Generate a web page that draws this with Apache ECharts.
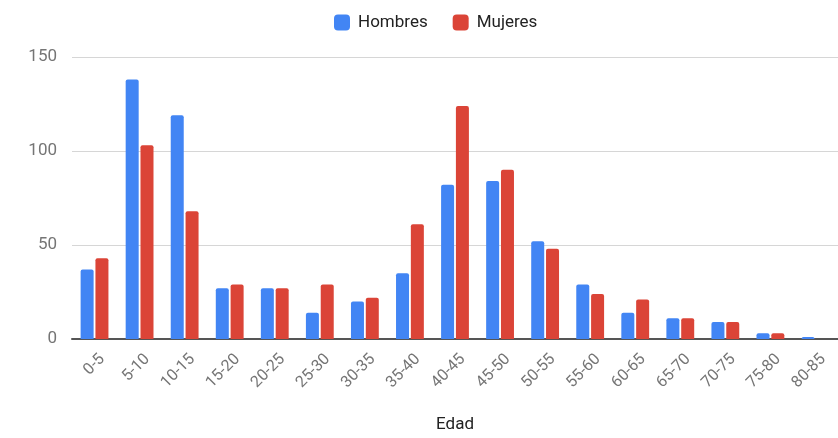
<!DOCTYPE html>
<html>
<head>
<meta charset="utf-8">
<script src="https://cdn.jsdelivr.net/npm/echarts@6/dist/echarts.min.js"></script>
<style>html,body{margin:0;padding:0;background:#fff}#c{width:838px;height:438px}</style>
</head>
<body>
<div id="c"></div>
<script>
const categories = ['0-5','5-10','10-15','15-20','20-25','25-30','30-35','35-40','40-45','45-50','50-55','55-60','60-65','65-70','70-75','75-80','80-85'];
const hombres = [37,138,119,27,27,14,20,35,82,84,52,29,14,11,9,3,1];
const mujeres = [43,103,68,29,27,29,22,61,124,90,48,24,21,11,9,3,0];
const yTicks = [0,50,100,150];

const chart = echarts.init(document.getElementById('c'), null, {renderer:'canvas'});
chart.setOption({
  animation:false,
  textStyle:{fontFamily:'Roboto'},
  legend:{
    top:9, left:329, itemWidth:16, itemHeight:16, itemGap:25,
    icon:'roundRect',
    textStyle:{fontSize:17, color:'#222', fontFamily:'Roboto', padding:[0,0,0,3]},
    data:['Hombres','Mujeres']
  },
  grid:{left:72, right:0, top:57, bottom:95, containLabel:false},
  xAxis:{
    type:'category', data:categories,
    name:'Edad', nameLocation:'middle', nameGap:77,
    nameTextStyle:{fontSize:17, color:'#222', fontFamily:'Roboto'},
    axisLine:{lineStyle:{color:'#555', width:2}},
    axisTick:{show:false},
    axisLabel:{rotate:45, fontSize:16, color:'#757575', margin:10, interval:0,
               verticalAlign:'top', lineHeight:22}
  },
  yAxis:{
    type:'value', min:yTicks[0], max:yTicks[yTicks.length-1], interval:50,
    axisLine:{show:false}, axisTick:{show:false},
    axisLabel:{fontSize:17, color:'#757575', margin:15},
    splitLine:{lineStyle:{color:'#d6d6d6', width:1}}
  },
  series:[
    {name:'Hombres', type:'bar', data:hombres, barWidth:13, barGap:'14%',
     itemStyle:{color:'#4285F4', borderRadius:[2,2,0,0]}},
    {name:'Mujeres', type:'bar', data:mujeres, barWidth:13,
     itemStyle:{color:'#DB4437', borderRadius:[2,2,0,0]}}
  ]
});
</script>
</body>
</html>
